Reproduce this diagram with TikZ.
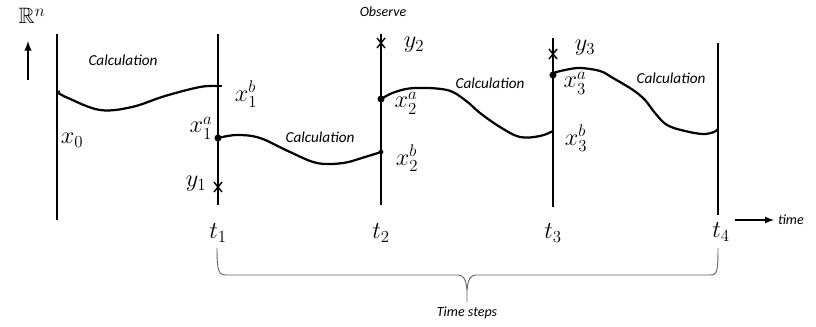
\documentclass[tikz,border=0pt]{standalone}
\usepackage{amsmath,amssymb}
\usepackage{fontspec}
\setmainfont{Carlito}
\usetikzlibrary{arrows,positioning,calc}

\begin{document}
\begin{tikzpicture}[x=0.03cm, y=-0.03cm,
        tline/.style={line width=2.2pt},
        traj/.style={line width=1.9pt, line cap=round},
        calc/.style={font=\itshape\fontsize{13}{15}\selectfont},
        note/.style={font=\itshape\fontsize{12}{14}\selectfont},
        lbl/.style={font=\fontsize{22}{24}\selectfont, inner sep=0pt},
        dot/.style={circle, fill, inner sep=0pt, minimum size=6pt},
        brace/.style={gray!80!black, line width=0.8pt}]

    \useasboundingbox (0,0) rectangle (816,326);

    % space axis
    \node[lbl, font=\fontsize{19}{21}\selectfont] (Rn) at (32,16) {$\mathbb{R}^n$};
    \coordinate (up0) at (28,80);
    \coordinate (up1) at (28,41);
    \draw[-latex, line width=1.8pt] (up0) -- (up1);

    % time lines
    \coordinate (l0t) at (57,34);  \coordinate (l0b) at (57,220);
    \coordinate (l1t) at (218,34); \coordinate (l1b) at (218,205);
    \coordinate (l2t) at (381,34); \coordinate (l2b) at (381,205);
    \coordinate (l3t) at (553,38); \coordinate (l3b) at (553,207);
    \coordinate (l4t) at (718,43); \coordinate (l4b) at (718,215);
    \foreach \i in {0,...,4}
        \draw[tline] (l\i t) -- (l\i b);

    \node[lbl] (t1) at (218,233) {$t_1$};
    \node[lbl] (t2) at (381,233) {$t_2$};
    \node[lbl] (t3) at (553,233) {$t_3$};
    \node[lbl] (t4) at (721,232) {$t_4$};

    \coordinate (tarr) at (735,220);
    \node[note, anchor=west] (time) at (774,220) {time};
    \draw[-latex, line width=1.6pt] (tarr) -- (time.west);

    % states
    \coordinate (x0) at (57,92);
    \coordinate (b1) at (218,86);
    \coordinate (b2) at (381,152);
    \coordinate (b3) at (553,131);
    \coordinate (b4) at (718,129);
    \node[dot] (a1) at (218,138) {};
    \node[dot] (a2) at (381,99) {};
    \node[dot] (a3) at (553,75) {};
    \node[dot, minimum size=4pt] (b2d) at (b2) {};

    \node[lbl] (x0l) at (72,140) {$x_0$};
    \node[lbl] (b1l) at (246,94) {$x_1^b$};
    \node[lbl] (a1l) at (201,128) {$x_1^a$};
    \node[lbl] (a2l) at (406,103) {$x_2^a$};
    \node[lbl] (b2l) at (407,158) {$x_2^b$};
    \node[lbl] (a3l) at (575,83) {$x_3^a$};
    \node[lbl] (b3l) at (576,138) {$x_3^b$};

    % trajectories
    \draw[traj] plot[smooth, tension=0.6] coordinates {(57,92) (68,98) (100,110) (132,107) (165,96) (200,87) (218,86)};
    \draw[traj] plot[smooth, tension=0.6] coordinates {(218,138) (237,135) (260,138) (290,152) (317,163) (343,163) (365,157) (381,152)};
    \draw[traj] plot[smooth, tension=0.6] coordinates {(381,99) (395,92) (415,88) (447,90) (465,100) (480,113) (500,127) (520,137) (540,136) (553,131)};
    \draw[traj] plot[smooth, tension=0.6] coordinates {(553,73) (565,70) (580,68) (600,71) (613,78) (633,90) (645,100) (655,113) (667,125) (685,131) (703,134) (714,132) (718,129)};
    \draw[line width=1.2pt] (b1) -- ++(4,0);
    \draw[line width=1.2pt] (x0) -- ++(3,-1);

    % observations
    \coordinate (y1) at (218,187);
    \coordinate (y2) at (381,43);
    \coordinate (y3) at (553,54);
    \foreach \p in {y1,y2,y3}
        \draw[line width=1.2pt] ($(\p)+(-4,-5)$) -- ($(\p)+(4,5)$)
                                ($(\p)+(-4,5)$) -- ($(\p)+(4,-5)$);
    \node[lbl] (y1l) at (196,184) {$y_1$};
    \node[lbl] (y2l) at (414,45) {$y_2$};
    \node[lbl] (y3l) at (585,48) {$y_3$};

    % labels
    \node[calc] (c1) at (123,60) {Calculation};
    \node[calc] (c2) at (320,137) {Calculation};
    \node[calc] (c3) at (490,83) {Calculation};
    \node[calc] (c4) at (671,78) {Calculation};
    \node[note] (obs) at (383,12) {Observe};

    % brace
    \coordinate (bl) at (217,248);
    \coordinate (br) at (718,248);
    \coordinate (tip) at (467,302);
    \draw[brace] (bl) .. controls (217,272) and (219,275) .. (226,275) -- (458,275)
        .. controls (464,275) and (466,280) .. (467,290) -- (tip);
    \draw[brace] (467,290) .. controls (468,280) and (470,275) .. (476,275) -- (710,275)
        .. controls (717,275) and (718,272) .. (br);
    \node[note] (steps) at (467,313) {Time steps};
\end{tikzpicture}
\end{document}
